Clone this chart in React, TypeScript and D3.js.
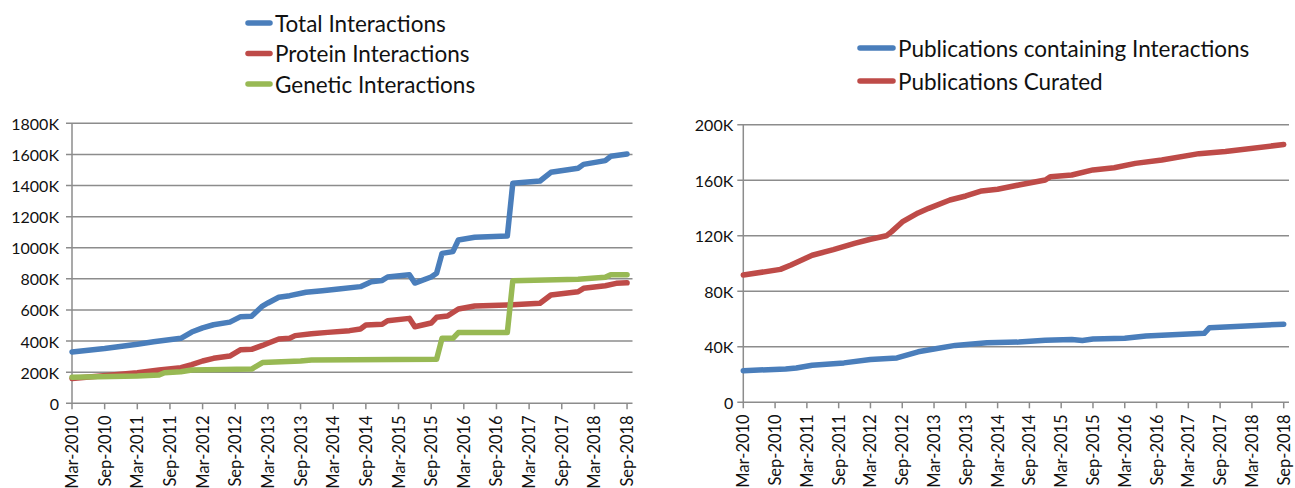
import React from "react";
import * as d3 from "d3";

type Pt = [string, number];

// Left chart (values in thousands)
const totalInteractions: Pt[] = [
  ["2010-03", 330], ["2010-09", 352], ["2011-03", 380], ["2011-06", 396], ["2011-11", 418],
  ["2012-01", 458], ["2012-03", 485], ["2012-05", 505], ["2012-08", 522], ["2012-10", 557],
  ["2012-12", 560], ["2013-02", 625], ["2013-03", 645], ["2013-05", 682], ["2013-07", 692],
  ["2013-10", 714], ["2014-01", 724], ["2014-04", 735], ["2014-08", 750], ["2014-10", 782],
  ["2014-12", 790], ["2015-01", 812], ["2015-05", 827], ["2015-06", 773], ["2015-09", 812],
  ["2015-10", 836], ["2015-11", 964], ["2016-01", 975], ["2016-02", 1050], ["2016-05", 1067],
  ["2016-11", 1076], ["2016-12", 1414], ["2017-05", 1429], ["2017-07", 1485], ["2017-12", 1511],
  ["2018-01", 1536], ["2018-05", 1560], ["2018-06", 1588], ["2018-09", 1602],
];

const proteinInteractions: Pt[] = [
  ["2010-03", 160], ["2011-03", 197], ["2011-07", 214], ["2011-11", 229], ["2012-01", 248],
  ["2012-03", 272], ["2012-05", 289], ["2012-08", 304], ["2012-10", 345], ["2012-12", 347],
  ["2013-02", 372], ["2013-03", 386], ["2013-05", 413], ["2013-07", 418], ["2013-08", 435],
  ["2013-11", 447], ["2014-02", 456], ["2014-06", 467], ["2014-08", 478], ["2014-09", 503],
  ["2014-12", 508], ["2015-01", 531], ["2015-05", 546], ["2015-06", 492], ["2015-09", 516],
  ["2015-10", 553], ["2015-12", 561], ["2016-02", 606], ["2016-05", 625], ["2016-11", 632],
  ["2017-05", 643], ["2017-07", 696], ["2017-12", 717], ["2018-01", 739], ["2018-05", 756],
  ["2018-07", 771], ["2018-09", 775],
];

const geneticInteractions: Pt[] = [
  ["2010-03", 167], ["2011-03", 175], ["2011-07", 182], ["2011-08", 197], ["2011-11", 203],
  ["2012-01", 214], ["2012-12", 220], ["2013-02", 262], ["2013-09", 272], ["2013-11", 278],
  ["2015-10", 283], ["2015-11", 418], ["2016-01", 418], ["2016-02", 455], ["2016-11", 455],
  ["2016-12", 788], ["2017-12", 797], ["2018-05", 810], ["2018-06", 827], ["2018-09", 827],
];

// Right chart (values in thousands)
const publicationsWithInteractions: Pt[] = [
  ["2010-03", 22.8], ["2010-11", 24], ["2011-01", 24.7], ["2011-04", 26.7], ["2011-10", 28.4],
  ["2012-03", 30.8], ["2012-08", 32], ["2012-12", 36.4], ["2013-03", 38.4], ["2013-07", 41],
  ["2014-01", 42.9], ["2014-07", 43.4], ["2014-12", 44.8], ["2015-05", 45.3], ["2015-07", 44.6],
  ["2015-09", 45.6], ["2016-03", 46.1], ["2016-07", 47.8], ["2017-06", 49.7], ["2017-07", 53.8],
  ["2018-09", 56.3],
];

const publicationsCurated: Pt[] = [
  ["2010-03", 91.7], ["2010-10", 95.8], ["2010-12", 99], ["2011-04", 106], ["2011-08", 110],
  ["2011-12", 114.6], ["2012-03", 117.5], ["2012-06", 120], ["2012-07", 123], ["2012-09", 130],
  ["2012-12", 136.5], ["2013-02", 139.8], ["2013-06", 145.8], ["2013-09", 148.7], ["2013-12", 152.3],
  ["2014-03", 153.5], ["2014-07", 156.6], ["2014-12", 160.2], ["2015-01", 162.6], ["2015-05", 163.8],
  ["2015-09", 167.5], ["2016-01", 169], ["2016-05", 172.2], ["2016-10", 174.6], ["2017-05", 179.2],
  ["2017-10", 180.8], ["2018-09", 185.8],
];

const xTickLabels = [
  "Mar-2010", "Sep-2010", "Mar-2011", "Sep-2011", "Mar-2012", "Sep-2012",
  "Mar-2013", "Sep-2013", "Mar-2014", "Sep-2014", "Mar-2015", "Sep-2015",
  "Mar-2016", "Sep-2016", "Mar-2017", "Sep-2017", "Mar-2018", "Sep-2018",
];
const leftYTicks = [0, 200, 400, 600, 800, 1000, 1200, 1400, 1600, 1800];
const rightYTicks = [0, 40, 80, 120, 160, 200];

const leftSeriesNames = ["Total Interactions", "Protein Interactions", "Genetic Interactions"];
const rightSeriesNames = ["Publications containing Interactions", "Publications Curated"];

const BLUE = "#4a7ebb";
const RED = "#be4b48";
const GREEN = "#98b954";
const GRID = "#8c8c8c";
const FONT = "Lato, 'Open Sans', sans-serif";

const monthNames = ["Jan","Feb","Mar","Apr","May","Jun","Jul","Aug","Sep","Oct","Nov","Dec"];
function monthIndex(s: string): number {
  const [y, m] = s.split("-").map(Number);
  return (y - 2010) * 12 + (m - 3);
}
function labelIndex(s: string): number {
  const [mon, yr] = s.split("-");
  return (Number(yr) - 2010) * 12 + monthNames.indexOf(mon) - 2;
}

type ChartProps = {
  x0: number; x1: number; yTop: number; yBottom: number;
  yMax: number; yTicks: number[];
  series: { data: Pt[]; color: string }[];
  legend: { name: string; color: string; y: number }[];
  legendLineX0: number; legendLineX1: number; legendTextX: number;
  labelGap: number;
};

function Chart(p: ChartProps) {
  const lastLabel = xTickLabels[xTickLabels.length - 1];
  const x = d3.scaleLinear().domain([0, labelIndex(lastLabel) + 1]).range([p.x0, p.x1]);
  const y = d3.scaleLinear().domain([0, p.yMax]).range([p.yBottom, p.yTop]);
  const line = d3.line<Pt>().x((d) => x(monthIndex(d[0]))).y((d) => y(d[1]));
  return (
    <g>
      {p.yTicks.map((t) => (
        <g key={"g" + t}>
          <line x1={p.x0 - 6} x2={p.x1} y1={y(t)} y2={y(t)} stroke={GRID} strokeWidth={1.5} />
          <text x={p.x0 - p.labelGap} y={y(t)} textAnchor="end" dominantBaseline="central"
            fontSize={16} fontFamily={FONT} fill="#111">
            {t === 0 ? "0" : `${t}K`}
          </text>
        </g>
      ))}
      <line x1={p.x0} x2={p.x0} y1={p.yTop} y2={p.yBottom + 6} stroke={GRID} strokeWidth={1.5} />
      {xTickLabels.map((l) => {
        const xi = x(labelIndex(l));
        return (
          <g key={l}>
            {xi > p.x0 + 1 && (
              <line x1={xi} x2={xi} y1={p.yBottom} y2={p.yBottom + 6} stroke={GRID} strokeWidth={1.5} />
            )}
            <text transform={`translate(${xi},${p.yBottom + 12}) rotate(-90)`} textAnchor="end"
              dominantBaseline="central" fontSize={16.5} fontFamily={FONT} fill="#111">
              {l}
            </text>
          </g>
        );
      })}
      {p.series.map((s, i) => (
        <path key={i} d={line(s.data) || ""} fill="none" stroke={s.color} strokeWidth={5.5}
          strokeLinejoin="round" strokeLinecap="round" />
      ))}
      {p.legend.map((l) => (
        <g key={l.name}>
          <line x1={p.legendLineX0} x2={p.legendLineX1} y1={l.y} y2={l.y} stroke={l.color}
            strokeWidth={5.5} strokeLinecap="round" />
          <text x={p.legendTextX} y={l.y} dominantBaseline="central" fontSize={22.5}
            fontFamily={FONT} fill="#111">
            {l.name}
          </text>
        </g>
      ))}
    </g>
  );
}

export default function App() {
  return (
    <svg width={1295} height={488} style={{ position: "absolute", left: 0, top: 0, background: "#fff" }}>
      <Chart
        x0={72} x1={632.5} yTop={123.3} yBottom={403.3} yMax={1800} yTicks={leftYTicks}
        series={[
          { data: totalInteractions, color: BLUE },
          { data: proteinInteractions, color: RED },
          { data: geneticInteractions, color: GREEN },
        ]}
        legend={[
          { name: leftSeriesNames[0], color: BLUE, y: 23 },
          { name: leftSeriesNames[1], color: RED, y: 53.5 },
          { name: leftSeriesNames[2], color: GREEN, y: 84 },
        ]}
        legendLineX0={248} legendLineX1={270} legendTextX={275}
        labelGap={13}
      />
      <Chart
        x0={743.3} x1={1289} yTop={124.8} yBottom={402.3} yMax={200} yTicks={rightYTicks}
        series={[
          { data: publicationsWithInteractions, color: BLUE },
          { data: publicationsCurated, color: RED },
        ]}
        legend={[
          { name: rightSeriesNames[0], color: BLUE, y: 48 },
          { name: rightSeriesNames[1], color: RED, y: 81 },
        ]}
        legendLineX0={860} legendLineX1={893} legendTextX={898}
        labelGap={10}
      />
    </svg>
  );
}
